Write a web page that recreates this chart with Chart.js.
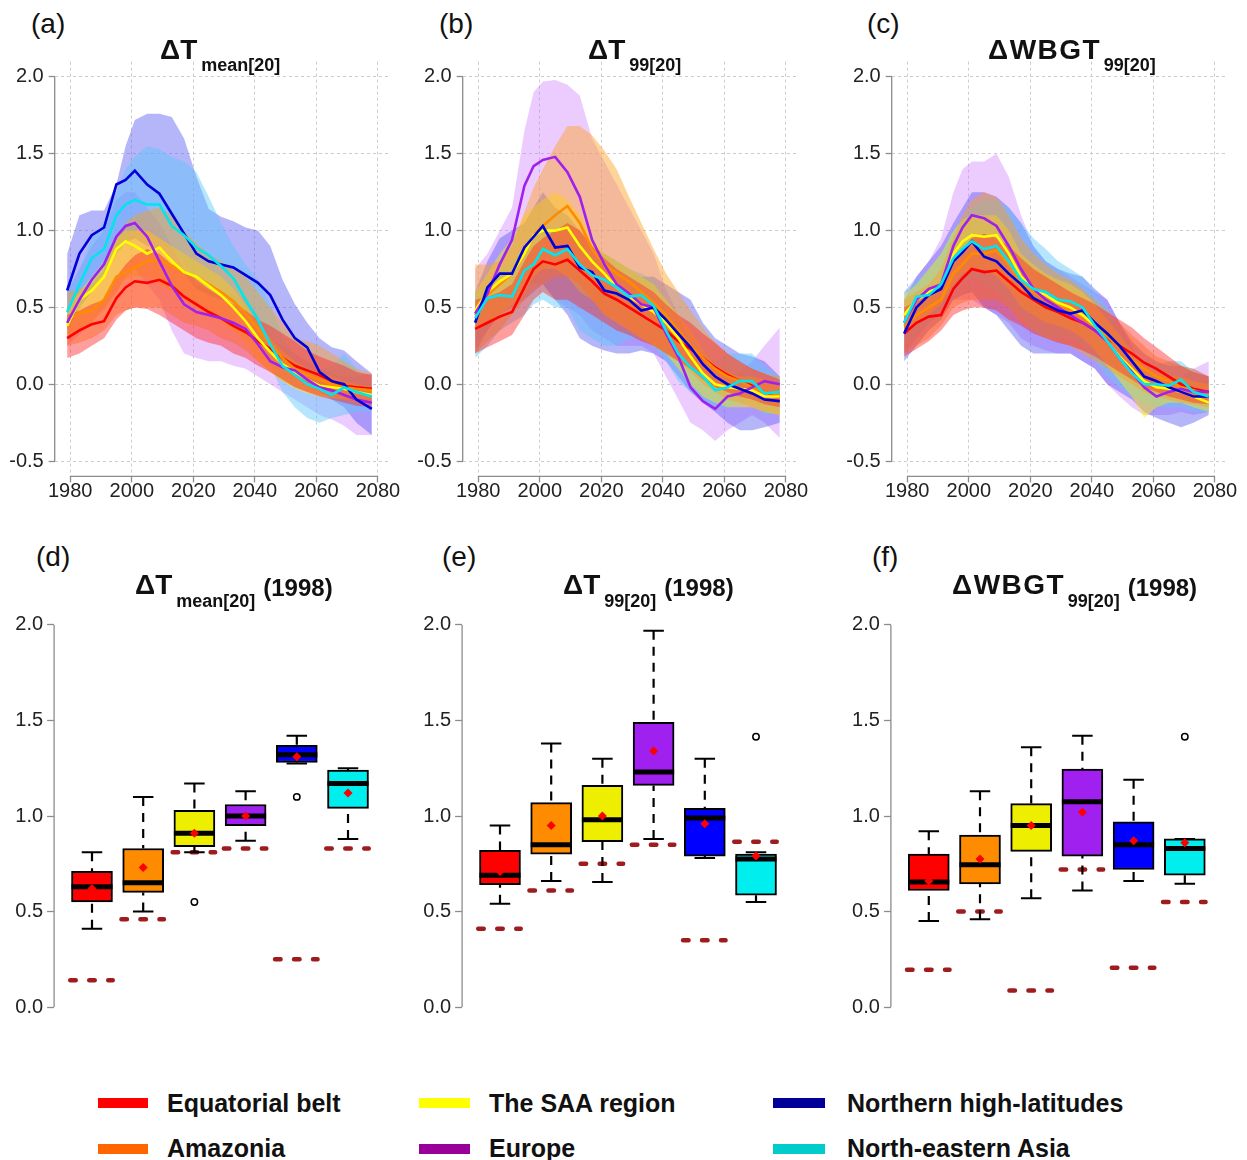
<!DOCTYPE html>
<html><head><meta charset="utf-8">
<script src="https://cdn.jsdelivr.net/npm/chart.js@4/dist/chart.umd.min.js"></script>
<style>
body{margin:0;background:#fff;}
#wrap{position:relative;width:1247px;height:1160px;overflow:hidden;background:#fff;font-family:'Liberation Sans',Arial,sans-serif;color:#111;}
canvas{position:absolute;}
.pl{position:absolute;font-size:28px;line-height:28px;white-space:nowrap;}
.tt{position:absolute;font-weight:bold;font-size:28px;line-height:28px;white-space:nowrap;}
.tt .s{font-size:18px;position:relative;top:12px;margin-left:4px;}
.tt .sb{font-size:18px;position:relative;top:13px;margin-left:4px;}
.tt .y{font-size:24px;position:relative;top:2px;margin-left:8px;}
.tt .w{letter-spacing:1.5px;}
.lg{position:absolute;font-weight:bold;font-size:25px;line-height:25px;white-space:nowrap;}
.sw{position:absolute;height:10px;}
</style></head>
<body><div id="wrap">
<canvas id="ca" width="410" height="480" style="left:0;top:40px"></canvas>
<canvas id="cb" width="410" height="480" style="left:410px;top:40px"></canvas>
<canvas id="cc" width="417" height="480" style="left:830px;top:40px"></canvas>
<canvas id="cd" width="410" height="450" style="left:0;top:590px"></canvas>
<canvas id="ce" width="410" height="450" style="left:410px;top:590px"></canvas>
<canvas id="cf" width="417" height="450" style="left:830px;top:590px"></canvas>

<div class="pl" style="left:31px;top:10px">(a)</div>
<div class="pl" style="left:439px;top:10px">(b)</div>
<div class="pl" style="left:867px;top:10px">(c)</div>
<div class="pl" style="left:36px;top:543px">(d)</div>
<div class="pl" style="left:442px;top:543px">(e)</div>
<div class="pl" style="left:872px;top:543px">(f)</div>

<div class="tt" style="left:160px;top:36px">ΔT<span class="s">mean[20]</span></div>
<div class="tt" style="left:588px;top:36px">ΔT<span class="s">99[20]</span></div>
<div class="tt" style="left:988px;top:36px"><span class="w">ΔWBG</span>T<span class="s">99[20]</span></div>
<div class="tt" style="left:135px;top:571px">ΔT<span class="sb">mean[20]</span><span class="y">(1998)</span></div>
<div class="tt" style="left:563px;top:571px">ΔT<span class="sb">99[20]</span><span class="y">(1998)</span></div>
<div class="tt" style="left:952px;top:571px"><span class="w">ΔWBG</span>T<span class="sb">99[20]</span><span class="y">(1998)</span></div>

<div id="legend"></div>
</div>
<script>
// ---------------- data ----------------
const regions = ['Equatorial belt','Amazonia','The SAA region','Europe','Northern high-latitudes','North-eastern Asia'];
const years = [1979,1983,1987,1991,1995,1998,2001,2005,2009,2013,2017,2021,2025,2029,2033,2037,2041,2045,2049,2053,2057,2061,2065,2069,2073,2078];
const xTicks = [1980,2000,2020,2040,2060,2080];
const yTicksTop = [-0.5,0,0.5,1,1.5,2];
const yTicksBox = [0,0.5,1,1.5,2];

// (a) ΔTmean[20]
const aEq  = [0.30,0.35,0.39,0.41,0.56,0.63,0.67,0.66,0.68,0.64,0.57,0.52,0.47,0.43,0.38,0.34,0.28,0.23,0.17,0.12,0.09,0.06,0.02,-0.01,-0.02,-0.03];
const aAm  = [0.42,0.46,0.48,0.55,0.70,0.73,0.76,0.80,0.81,0.77,0.73,0.70,0.65,0.60,0.54,0.46,0.36,0.26,0.17,0.10,0.06,0.03,0.00,-0.02,-0.03,-0.04];
const aSaa = [0.38,0.55,0.61,0.70,0.88,0.93,0.90,0.85,0.89,0.80,0.73,0.70,0.64,0.58,0.50,0.41,0.30,0.21,0.13,0.08,0.03,-0.01,-0.02,-0.03,-0.05,-0.07];
const aEu  = [0.40,0.55,0.68,0.78,0.96,1.03,1.05,0.96,0.80,0.64,0.52,0.47,0.45,0.43,0.40,0.36,0.26,0.15,0.11,0.09,0.03,-0.02,-0.04,-0.07,-0.10,-0.12];
const aNhl = [0.61,0.85,0.97,1.02,1.30,1.33,1.39,1.30,1.24,1.11,0.98,0.85,0.80,0.78,0.76,0.71,0.66,0.58,0.42,0.30,0.24,0.08,0.02,0.00,-0.10,-0.16];
const aNea = [0.47,0.65,0.82,0.88,1.10,1.17,1.20,1.17,1.17,1.03,0.97,0.89,0.84,0.77,0.69,0.55,0.42,0.26,0.12,0.06,0.00,-0.03,-0.07,-0.02,-0.05,-0.08];
const aEqLo  = [0.17,0.20,0.25,0.30,0.42,0.48,0.50,0.49,0.45,0.40,0.35,0.30,0.27,0.25,0.20,0.17,0.12,0.08,0.03,-0.02,-0.05,-0.08,-0.10,-0.12,-0.14,-0.15];
const aEqHi  = [0.45,0.48,0.52,0.55,0.70,0.78,0.84,0.88,0.85,0.78,0.74,0.68,0.62,0.57,0.52,0.48,0.42,0.38,0.33,0.28,0.22,0.18,0.15,0.12,0.08,0.06];
const aAmLo  = [0.25,0.27,0.30,0.35,0.45,0.48,0.50,0.50,0.50,0.45,0.40,0.38,0.35,0.30,0.27,0.22,0.15,0.08,0.02,-0.02,-0.05,-0.07,-0.08,-0.10,-0.12,-0.13];
const aAmHi  = [0.60,0.62,0.65,0.75,0.95,1.05,1.10,1.13,1.15,1.10,1.00,0.92,0.85,0.80,0.75,0.70,0.60,0.50,0.40,0.30,0.28,0.25,0.20,0.15,0.10,0.07];
const aSaaLo = [0.30,0.35,0.40,0.48,0.60,0.68,0.70,0.70,0.65,0.60,0.55,0.50,0.45,0.40,0.35,0.28,0.15,0.08,0.02,-0.03,-0.06,-0.08,-0.09,-0.10,-0.10,-0.10];
const aSaaHi = [0.50,0.60,0.70,0.80,0.95,1.00,1.00,1.00,0.95,0.90,0.85,0.80,0.75,0.70,0.62,0.52,0.40,0.30,0.22,0.15,0.10,0.08,0.05,0.02,0.00,-0.02];
const aEuLo  = [0.25,0.32,0.40,0.50,0.60,0.70,0.75,0.65,0.55,0.35,0.20,0.17,0.15,0.15,0.12,0.10,0.05,0.00,-0.05,-0.10,-0.15,-0.20,-0.23,-0.27,-0.33,-0.33];
const aEuHi  = [0.60,0.75,0.90,1.00,1.20,1.25,1.25,1.15,1.05,0.90,0.75,0.65,0.62,0.60,0.58,0.55,0.45,0.30,0.25,0.20,0.15,0.10,0.07,0.05,0.05,0.07];
const aNhlLo = [0.35,0.50,0.60,0.70,0.85,0.92,0.95,0.90,0.88,0.82,0.72,0.62,0.58,0.55,0.52,0.48,0.40,0.30,0.18,0.08,0.00,-0.05,-0.10,-0.15,-0.25,-0.33];
const aNhlHi = [0.85,1.10,1.13,1.13,1.30,1.55,1.72,1.76,1.76,1.74,1.60,1.35,1.14,1.09,1.06,1.02,1.00,0.90,0.68,0.52,0.40,0.30,0.24,0.22,0.15,0.07];
const aNeaLo = [0.35,0.50,0.60,0.70,0.85,0.95,1.00,1.00,0.95,0.88,0.78,0.68,0.63,0.58,0.52,0.42,0.28,0.12,-0.05,-0.15,-0.22,-0.25,-0.22,-0.20,-0.18,-0.18];
const aNeaHi = [0.60,0.75,0.95,1.05,1.25,1.40,1.48,1.55,1.53,1.48,1.45,1.38,1.22,1.05,0.90,0.78,0.68,0.52,0.32,0.18,0.12,0.10,0.12,0.20,0.10,0.00];

// (b) ΔT99[20]
const bEq  = [0.36,0.40,0.44,0.47,0.63,0.75,0.80,0.78,0.81,0.74,0.67,0.59,0.55,0.50,0.45,0.40,0.35,0.28,0.23,0.17,0.11,0.06,0.02,-0.01,-0.05,-0.08];
const bAm  = [0.45,0.58,0.65,0.72,0.85,0.97,1.03,1.10,1.16,1.05,0.88,0.78,0.72,0.67,0.60,0.53,0.45,0.35,0.25,0.17,0.10,0.05,0.02,-0.02,-0.05,-0.07];
const bSaa = [0.48,0.60,0.67,0.72,0.85,0.97,1.00,1.00,1.02,0.90,0.80,0.72,0.63,0.57,0.52,0.47,0.40,0.30,0.18,0.07,0.00,-0.02,-0.03,-0.04,-0.08,-0.08];
const bEu  = [0.46,0.59,0.78,0.94,1.29,1.42,1.46,1.48,1.38,1.22,0.94,0.78,0.65,0.59,0.52,0.50,0.33,0.18,-0.02,-0.11,-0.16,-0.08,-0.06,-0.02,0.02,0.00];
const bNhl = [0.40,0.63,0.72,0.72,0.89,0.96,1.03,0.89,0.90,0.76,0.73,0.61,0.59,0.55,0.48,0.50,0.42,0.33,0.24,0.13,0.05,0.00,-0.03,-0.06,-0.10,-0.11];
const bNea = [0.43,0.56,0.58,0.57,0.74,0.78,0.88,0.84,0.88,0.78,0.71,0.68,0.63,0.57,0.58,0.51,0.35,0.20,0.11,0.05,-0.04,-0.02,0.02,0.02,-0.06,-0.05];
const bEqLo  = [0.20,0.24,0.28,0.32,0.45,0.55,0.60,0.55,0.55,0.50,0.45,0.40,0.35,0.32,0.28,0.25,0.20,0.15,0.10,0.03,-0.02,-0.05,-0.08,-0.10,-0.13,-0.15];
const bEqHi  = [0.55,0.57,0.60,0.65,0.80,0.90,0.95,1.00,1.05,1.00,0.90,0.82,0.75,0.70,0.65,0.60,0.52,0.45,0.40,0.33,0.27,0.20,0.15,0.10,0.07,0.03];
const bAmLo  = [0.20,0.28,0.35,0.45,0.55,0.62,0.65,0.70,0.70,0.65,0.55,0.45,0.40,0.35,0.30,0.25,0.20,0.15,0.08,0.00,-0.05,-0.10,-0.12,-0.15,-0.18,-0.20];
const bAmHi  = [0.78,0.78,0.80,0.90,1.12,1.28,1.40,1.55,1.68,1.68,1.62,1.52,1.40,1.22,1.05,0.88,0.72,0.60,0.48,0.37,0.27,0.20,0.14,0.10,0.07,0.05];
const bSaaLo = [0.35,0.40,0.45,0.52,0.60,0.70,0.75,0.75,0.70,0.60,0.55,0.45,0.40,0.35,0.30,0.25,0.20,0.10,0.00,-0.08,-0.12,-0.15,-0.15,-0.15,-0.18,-0.20];
const bSaaHi = [0.60,0.72,0.85,0.95,1.10,1.15,1.20,1.25,1.20,1.10,0.95,0.85,0.80,0.75,0.70,0.65,0.55,0.45,0.35,0.22,0.12,0.08,0.05,0.05,0.03,0.00];
const bEuLo  = [0.25,0.35,0.45,0.55,0.65,0.65,0.65,0.55,0.50,0.45,0.35,0.30,0.25,0.25,0.25,0.20,0.05,-0.10,-0.25,-0.30,-0.37,-0.30,-0.25,-0.20,-0.25,-0.35];
const bEuHi  = [0.75,0.85,1.00,1.15,1.65,1.90,1.97,1.98,1.95,1.88,1.60,1.45,1.30,1.15,1.00,0.85,0.62,0.45,0.28,0.15,0.05,0.05,0.08,0.15,0.25,0.37];
const bNhlLo = [0.20,0.35,0.45,0.50,0.55,0.60,0.65,0.55,0.45,0.30,0.25,0.22,0.20,0.20,0.22,0.20,0.15,0.05,-0.05,-0.12,-0.18,-0.25,-0.30,-0.30,-0.28,-0.25];
const bNhlHi = [0.60,0.80,0.95,1.00,1.05,1.15,1.25,1.15,1.10,1.00,0.90,0.85,0.80,0.75,0.70,0.70,0.65,0.60,0.55,0.40,0.30,0.25,0.20,0.18,0.15,0.05];
const bNeaLo = [0.17,0.25,0.35,0.40,0.45,0.52,0.55,0.50,0.50,0.35,0.30,0.25,0.25,0.30,0.30,0.25,0.15,0.02,-0.05,-0.10,-0.15,-0.15,-0.12,-0.12,-0.20,-0.18];
const bNeaHi = [0.60,0.65,0.75,0.80,0.90,0.98,1.05,1.00,1.00,0.95,0.90,0.85,0.80,0.75,0.72,0.68,0.55,0.40,0.30,0.22,0.15,0.20,0.20,0.20,0.12,0.05];

// (c) ΔWBGT99[20]
const cEq  = [0.33,0.40,0.44,0.45,0.62,0.69,0.75,0.73,0.74,0.67,0.60,0.55,0.50,0.47,0.43,0.40,0.35,0.30,0.25,0.20,0.14,0.10,0.05,0.00,-0.03,-0.05];
const cAm  = [0.38,0.45,0.50,0.55,0.72,0.78,0.85,0.85,0.87,0.78,0.66,0.60,0.55,0.52,0.48,0.44,0.38,0.31,0.24,0.16,0.10,0.05,0.02,-0.02,-0.04,-0.07];
const cSaa = [0.45,0.55,0.60,0.65,0.85,0.93,0.97,0.96,0.97,0.85,0.70,0.62,0.58,0.53,0.50,0.45,0.38,0.28,0.18,0.10,0.02,-0.02,-0.03,-0.05,-0.08,-0.12];
const cEu  = [0.40,0.55,0.62,0.65,0.90,1.02,1.10,1.08,1.03,0.90,0.75,0.62,0.55,0.50,0.45,0.40,0.35,0.28,0.17,0.08,-0.02,-0.08,-0.05,-0.03,-0.05,-0.05];
const cNhl = [0.33,0.50,0.58,0.62,0.80,0.86,0.93,0.83,0.80,0.72,0.65,0.56,0.52,0.48,0.46,0.48,0.40,0.33,0.25,0.15,0.05,0.02,-0.02,-0.05,-0.08,-0.08];
const cNea = [0.40,0.57,0.58,0.65,0.82,0.88,0.93,0.88,0.90,0.80,0.68,0.62,0.60,0.55,0.54,0.50,0.38,0.28,0.17,0.07,0.00,0.00,-0.01,0.03,-0.05,-0.08];
const cEqLo  = [0.18,0.23,0.28,0.35,0.45,0.48,0.50,0.50,0.48,0.42,0.38,0.33,0.30,0.27,0.25,0.22,0.18,0.13,0.08,0.03,-0.02,-0.05,-0.08,-0.10,-0.12,-0.13];
const cEqHi  = [0.50,0.54,0.58,0.65,0.80,0.88,0.95,0.98,0.95,0.90,0.82,0.75,0.70,0.65,0.60,0.56,0.52,0.47,0.42,0.37,0.30,0.24,0.18,0.12,0.08,0.05];
const cAmLo  = [0.20,0.25,0.30,0.38,0.50,0.53,0.55,0.55,0.55,0.50,0.40,0.35,0.30,0.28,0.25,0.20,0.15,0.10,0.05,0.00,-0.05,-0.08,-0.10,-0.12,-0.13,-0.15];
const cAmHi  = [0.55,0.60,0.65,0.75,0.95,1.10,1.20,1.25,1.22,1.10,0.95,0.85,0.78,0.72,0.68,0.62,0.55,0.48,0.40,0.32,0.25,0.18,0.15,0.12,0.10,0.05];
const cSaaLo = [0.35,0.40,0.45,0.52,0.65,0.72,0.75,0.75,0.70,0.62,0.50,0.45,0.40,0.38,0.35,0.30,0.22,0.12,0.02,-0.08,-0.22,-0.15,-0.12,-0.12,-0.15,-0.18];
const cSaaHi = [0.58,0.65,0.75,0.85,1.00,1.07,1.10,1.10,1.10,1.00,0.85,0.78,0.72,0.68,0.65,0.60,0.52,0.42,0.32,0.22,0.12,0.08,0.05,0.05,0.02,0.00];
const cEuLo  = [0.20,0.30,0.40,0.45,0.55,0.55,0.55,0.50,0.45,0.40,0.30,0.25,0.22,0.20,0.20,0.15,0.10,0.00,-0.08,-0.15,-0.20,-0.20,-0.20,-0.18,-0.20,-0.18];
const cEuHi  = [0.60,0.70,0.80,0.95,1.25,1.40,1.45,1.45,1.50,1.35,1.10,0.90,0.80,0.75,0.70,0.65,0.60,0.55,0.40,0.25,0.10,0.05,0.05,0.05,0.10,0.15];
const cNhlLo = [0.15,0.25,0.35,0.42,0.55,0.58,0.60,0.50,0.45,0.35,0.25,0.20,0.20,0.20,0.20,0.15,0.10,0.00,-0.05,-0.10,-0.18,-0.22,-0.25,-0.28,-0.25,-0.20];
const cNhlHi = [0.55,0.70,0.80,0.90,1.05,1.15,1.25,1.25,1.22,1.15,1.05,0.90,0.80,0.75,0.72,0.70,0.62,0.55,0.40,0.28,0.20,0.15,0.12,0.12,0.10,0.05];
const cNeaLo = [0.25,0.32,0.40,0.48,0.60,0.65,0.70,0.65,0.60,0.50,0.45,0.35,0.30,0.30,0.30,0.25,0.15,0.05,-0.02,-0.08,-0.12,-0.15,-0.15,-0.15,-0.18,-0.18];
const cNeaHi = [0.60,0.68,0.75,0.85,1.00,1.08,1.15,1.20,1.20,1.15,1.05,0.95,0.88,0.80,0.75,0.70,0.60,0.50,0.35,0.22,0.15,0.12,0.15,0.15,0.08,0.03];

// (d) ΔTmean[20] (1998) box statistics, one value per region
const dMin  = [0.41,0.50,0.81,0.87,1.275,0.88];
const dQ1   = [0.55,0.60,0.84,0.95,1.28,1.04];
const dMed  = [0.63,0.65,0.91,1.00,1.32,1.17];
const dQ3   = [0.71,0.83,1.03,1.06,1.37,1.24];
const dMax  = [0.81,1.10,1.17,1.13,1.42,1.25];
const dMean = [0.62,0.73,0.91,1.00,1.31,1.12];
const dRef  = [0.14,0.46,0.81,0.83,0.25,0.83];
const dOut  = [[],[],[0.55],[],[1.10],[]];
// (e) ΔT99[20] (1998)
const eMin  = [0.54,0.66,0.655,0.88,0.78,0.55];
const eQ1   = [0.64,0.80,0.865,1.16,0.79,0.585];
const eMed  = [0.69,0.85,0.98,1.23,0.99,0.775];
const eQ3   = [0.82,1.07,1.16,1.49,1.04,0.80];
const eMax  = [0.95,1.38,1.30,1.97,1.30,0.81];
const eMean = [0.71,0.95,1.00,1.34,0.96,0.79];
const eRef  = [0.41,0.61,0.75,0.85,0.35,0.865];
const eOut  = [[],[],[],[],[],[1.415]];
// (f) ΔWBGT99[20] (1998)
const fMin  = [0.45,0.46,0.57,0.61,0.66,0.645];
const fQ1   = [0.61,0.645,0.815,0.79,0.72,0.69];
const fMed  = [0.655,0.745,0.95,1.075,0.85,0.83];
const fQ3   = [0.80,0.90,1.065,1.245,0.97,0.88];
const fMax  = [0.92,1.13,1.36,1.42,1.19,0.88];
const fMean = [0.66,0.775,0.95,1.02,0.87,0.86];
const fRef  = [0.195,0.50,0.087,0.72,0.205,0.55];
const fOut  = [[],[],[],[],[],[1.415]];

// ---------------- styles ----------------
const lineColors = ['#FF0000','#FF8C00','#FFFF00','#A020F0','#0000DD','#00E5EE'];
const bandColors = ['rgba(255,40,40,0.45)','rgba(255,160,30,0.45)','rgba(255,240,0,0.45)','rgba(205,120,255,0.38)','rgba(90,90,245,0.45)','rgba(90,200,250,0.45)'];
const boxColors  = ['#FF0000','#FF8C00','#EEEE00','#A020F0','#0000FF','#00EEEE'];
const legendColors = ['#FF0000','#FF6600','#FFFF00','#990099','#000099','#00CCCC'];
const AXIS = '#8c8c8c';

Chart.defaults.font.family = "'Liberation Sans', Arial, sans-serif";
Chart.defaults.color = '#222';

const axisLines = {
  id: 'axisLines',
  afterDraw(chart, args, opts) {
    const ctx = chart.ctx, ca = chart.chartArea, xs = chart.scales.x, ys = chart.scales.y;
    ctx.save();
    ctx.strokeStyle = AXIS; ctx.lineWidth = 1.3;
    ctx.beginPath();
    ctx.moveTo(ca.left, ys.getPixelForValue(opts.yRange[0]));
    ctx.lineTo(ca.left, ys.getPixelForValue(opts.yRange[1]));
    if (opts.xRange) {
      ctx.moveTo(xs.getPixelForValue(opts.xRange[0]), ca.bottom);
      ctx.lineTo(xs.getPixelForValue(opts.xRange[1]), ca.bottom);
    }
    ctx.stroke();
    ctx.restore();
  }
};

function pts(arr) { return years.map((x, k) => ({x: x, y: arr[k]})); }

function topChart(id, lines, bands, g) {
  const ds = [];
  const bandOrder = [10,11,12,15,14,13];
  const lineOrder = [5,4,3,2,1,0];
  bands.forEach((b, i) => {
    const lo = ds.length;
    ds.push({type:'line', data: pts(b[0]), borderWidth:0, pointRadius:0, fill:false, order: bandOrder[i], borderColor:'rgba(0,0,0,0)'});
    ds.push({type:'line', data: pts(b[1]), borderWidth:0, pointRadius:0, fill:{target: lo}, backgroundColor: bandColors[i], order: bandOrder[i], borderColor:'rgba(0,0,0,0)'});
  });
  lines.forEach((l, i) => {
    ds.push({type:'line', label: regions[i], data: pts(l), borderColor: lineColors[i], borderWidth: 2.6, pointRadius:0, fill:false, tension:0, order: lineOrder[i]});
  });
  new Chart(document.getElementById(id), {
    type: 'line',
    data: {datasets: ds},
    plugins: [axisLines],
    options: {
      responsive:false, animation:false, events:[],
      layout: {autoPadding:false, padding: {left:0, right:g.pr, top:21.6, bottom:0}},
      plugins: {legend:{display:false}, tooltip:{enabled:false}, axisLines:{yRange:[-0.5,2], xRange:[1980,2080]}},
      scales: {
        x: {type:'linear', min:1974.96, max:2084.04, offset:false,
            afterBuildTicks: s => { s.ticks = xTicks.map(v => ({value:v})); },
            afterFit: s => { s.height = 43.6; },
            grid: {color:'#cccccc', lineWidth:1, tickColor:AXIS, tickLength:6, tickWidth:1.3},
            border: {display:false, dash:[3,3]},
            ticks: {font:{size:20}, color:'#222', padding:-3, maxRotation:0, autoSkip:false, callback: v => String(v)}},
        y: {type:'linear', min:-0.6, max:2.1,
            afterBuildTicks: s => { s.ticks = yTicksTop.map(v => ({value:v})); },
            afterFit: s => { s.width = g.yw; },
            grid: {color:'#cccccc', lineWidth:1, tickColor:AXIS, tickLength:6, tickWidth:1.3},
            border: {display:false, dash:[3,3]},
            ticks: {font:{size:20}, color:'#222', padding:5, autoSkip:false, callback: v => v.toFixed(1)}}
      }
    }
  });
}

function boxChart(id, st, g) {
  const pos = [1,2,3,4,5,6];
  const ref = [], whisk = [], caps = [], outs = [];
  pos.forEach((p, i) => {
    ref.push({x:p-0.425, y:st.ref[i]}, {x:p+0.405, y:st.ref[i]}, {x:p+0.45, y:null});
    whisk.push({x:p, y:st.max[i]}, {x:p, y:st.q3[i]}, {x:p, y:null}, {x:p, y:st.min[i]}, {x:p, y:st.q1[i]}, {x:p, y:null});
    caps.push({x:p, y:st.max[i]}, {x:p, y:st.min[i]});
    st.out[i].forEach(v => outs.push({x:p, y:v}));
  });
  const ds = [
    {type:'line', data: ref, borderColor:'#9E1B1E', borderWidth:4.5, borderDash:[5.5,13.5], borderCapStyle:'round', pointRadius:0, spanGaps:false, order:6},
    {type:'line', data: whisk, borderColor:'#000', borderWidth:2.2, borderDash:[9,7], pointRadius:0, spanGaps:false, order:5},
    {type:'bar', data: pos.map((p,i) => ({x:p, y:[st.q1[i], st.q3[i]]})), backgroundColor: boxColors, borderColor:'#000', borderWidth:2, borderSkipped:false, barThickness:41, order:4},
    {type:'line', data: pos.map((p,i) => ({x:p, y:st.med[i]})), showLine:false, pointStyle:'line', pointRadius:20.5, pointBorderWidth:5, pointBorderColor:'#000', order:3},
    {type:'line', data: caps, showLine:false, pointStyle:'line', pointRadius:10.25, pointBorderWidth:2, pointBorderColor:'#000', order:2},
    {type:'line', data: pos.map((p,i) => ({x:p, y:st.mean[i]})), showLine:false, pointStyle:'rectRot', pointRadius:4.5, pointBackgroundColor:'#FF0000', pointBorderWidth:0, order:1},
    {type:'line', data: outs, showLine:false, pointStyle:'circle', pointRadius:3.2, pointBackgroundColor:'rgba(0,0,0,0)', pointBorderColor:'#000', pointBorderWidth:1.5, order:0}
  ];
  new Chart(document.getElementById(id), {
    type: 'bar',
    data: {datasets: ds},
    plugins: [axisLines],
    options: {
      responsive:false, animation:false, events:[],
      layout: {autoPadding:false, padding: {left:0, right:g.pr, top:19.7, bottom:17.7}},
      plugins: {legend:{display:false}, tooltip:{enabled:false}, axisLines:{yRange:[0,2]}},
      scales: {
        x: {type:'linear', display:false, min:0.26, max:6.74, offset:false},
        y: {type:'linear', min:-0.08, max:2.08,
            afterBuildTicks: s => { s.ticks = yTicksBox.map(v => ({value:v})); },
            afterFit: s => { s.width = g.yw; },
            grid: {drawOnChartArea:false, color:AXIS, tickColor:AXIS, tickLength:7, tickWidth:1.3},
            border: {display:false},
            ticks: {font:{size:20}, color:'#222', padding:4, autoSkip:false, callback: v => v.toFixed(1)}}
      }
    }
  });
}

topChart('ca', [aEq,aAm,aSaa,aEu,aNhl,aNea],
  [[aEqLo,aEqHi],[aAmLo,aAmHi],[aSaaLo,aSaaHi],[aEuLo,aEuHi],[aNhlLo,aNhlHi],[aNeaLo,aNeaHi]], {yw:54.7, pr:19.6});
topChart('cb', [bEq,bAm,bSaa,bEu,bNhl,bNea],
  [[bEqLo,bEqHi],[bAmLo,bAmHi],[bSaaLo,bSaaHi],[bEuLo,bEuHi],[bNhlLo,bNhlHi],[bNeaLo,bNeaHi]], {yw:52.7, pr:21.6});
topChart('cc', [cEq,cAm,cSaa,cEu,cNhl,cNea],
  [[cEqLo,cEqHi],[cAmLo,cAmHi],[cSaaLo,cSaaHi],[cEuLo,cEuHi],[cNhlLo,cNhlHi],[cNeaLo,cNeaHi]], {yw:61.7, pr:19.6});

boxChart('cd', {min:dMin,q1:dQ1,med:dMed,q3:dQ3,max:dMax,mean:dMean,ref:dRef,out:dOut}, {yw:54.1, pr:24.1});
boxChart('ce', {min:eMin,q1:eQ1,med:eMed,q3:eQ3,max:eMax,mean:eMean,ref:eRef,out:eOut}, {yw:52.1, pr:26.1});
boxChart('cf', {min:fMin,q1:fQ1,med:fMed,q3:fQ3,max:fMax,mean:fMean,ref:fRef,out:fOut}, {yw:60.9, pr:24.3});

// legend (HTML text)
const legPos = [
  {sx:98, sw:50, tx:167, row:0}, {sx:98, sw:50, tx:167, row:1},
  {sx:419, sw:51, tx:489, row:0}, {sx:419, sw:51, tx:489, row:1},
  {sx:773, sw:52, tx:847, row:0}, {sx:773, sw:52, tx:847, row:1}
];
const lg = document.getElementById('legend');
regions.forEach((r, i) => {
  const p = legPos[i];
  const sw = document.createElement('div');
  sw.className = 'sw';
  sw.style.left = p.sx + 'px'; sw.style.width = p.sw + 'px';
  sw.style.top = (p.row ? 1144 : 1098) + 'px';
  sw.style.background = legendColors[i];
  lg.appendChild(sw);
  const t = document.createElement('div');
  t.className = 'lg';
  t.style.left = p.tx + 'px';
  t.style.top = (p.row ? 1136 : 1091) + 'px';
  t.textContent = r;
  lg.appendChild(t);
});
</script>
</body></html>
